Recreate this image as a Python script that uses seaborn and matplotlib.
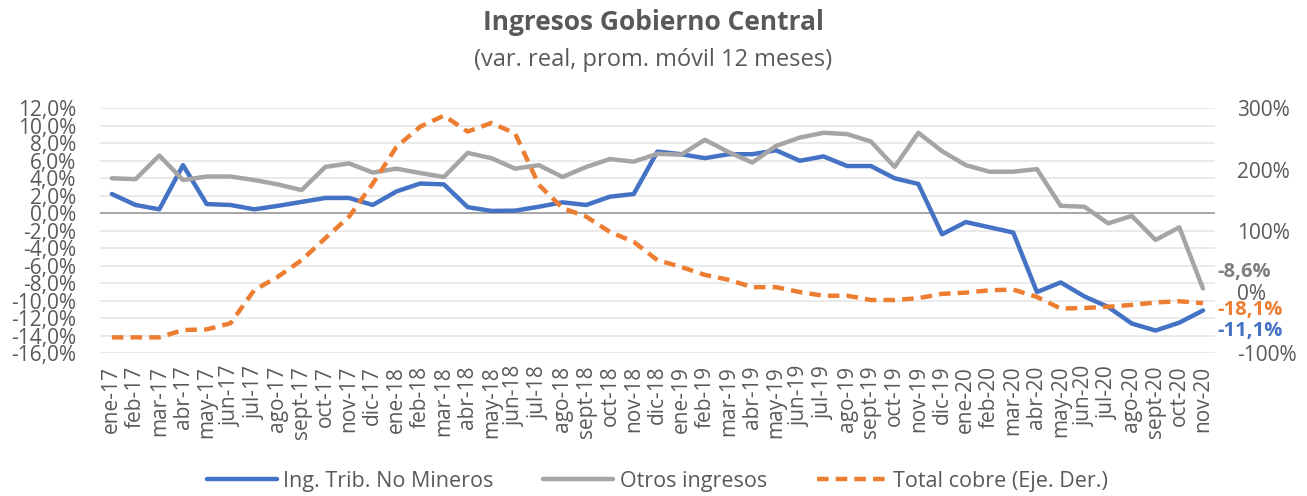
import numpy as np
import pandas as pd
import matplotlib
matplotlib.use("Agg")
import matplotlib.pyplot as plt
import seaborn as sns

meses = ['ene-17','feb-17','mar-17','abr-17','may-17','jun-17','jul-17','ago-17','sept-17','oct-17','nov-17','dic-17',
         'ene-18','feb-18','mar-18','abr-18','may-18','jun-18','jul-18','ago-18','sept-18','oct-18','nov-18','dic-18',
         'ene-19','feb-19','mar-19','abr-19','may-19','jun-19','jul-19','ago-19','sept-19','oct-19','nov-19','dic-19',
         'ene-20','feb-20','mar-20','abr-20','may-20','jun-20','jul-20','ago-20','sept-20','oct-20','nov-20']

# % var. real, prom. movil 12 meses
trib_no_mineros = [2.2, 0.95, 0.45, 5.5, 1.05, 0.95, 0.45, 0.85, 1.3, 1.75, 1.75, 0.95,
                   2.5, 3.4, 3.3, 0.7, 0.27, 0.3, 0.75, 1.25, 0.95, 1.9, 2.2, 7.05,
                   6.75, 6.3, 6.75, 6.75, 7.2, 6.0, 6.5, 5.4, 5.4, 4.0, 3.35, -2.4,
                   -1.0, -1.6, -2.2, -9.0, -7.9, -9.5, -10.7, -12.6, -13.4, -12.5, -11.1]
otros_ingresos = [4.0, 3.9, 6.6, 3.8, 4.2, 4.2, 3.8, 3.3, 2.65, 5.3, 5.7, 4.65,
                  5.1, 4.6, 4.15, 6.9, 6.3, 5.1, 5.5, 4.15, 5.3, 6.2, 5.9, 6.8,
                  6.7, 8.4, 7.0, 5.8, 7.7, 8.65, 9.2, 9.05, 8.2, 5.3, 9.2, 7.1,
                  5.5, 4.75, 4.75, 5.05, 0.85, 0.75, -1.15, -0.3, -3.05, -1.6, -8.6]
total_cobre = [-74, -74, -74, -62, -61, -51, 3, 25, 52, 88, 123, 177,
               237, 270, 288, 262, 276, 259, 175, 137, 123, 98, 82, 52,
               41, 28, 20, 8, 8, 0, -6, -6, -13, -13, -10, -3,
               -1, 3, 4, -8, -27, -26, -24, -21, -17, -15, -18.1]

df = pd.DataFrame({'pos': np.arange(len(meses)), 'mes': meses,
                   'trib': trib_no_mineros, 'otros': otros_ingresos, 'cobre': total_cobre})

AZUL = '#4472C4'
GRIS = '#A5A5A5'
NARANJA = '#ED7D31'
TXT = '#595959'

sns.set_style("white")
plt.rcParams['font.family'] = ['Open Sans', 'DejaVu Sans']

fig = plt.figure(figsize=(13.07, 4.96), dpi=100)
ax = fig.add_axes([0.0765, 0.2877, 0.853, 0.494])
ax2 = ax.twinx()

for y in np.arange(-16, 13, 2):
    if y != 0:
        ax.axhline(y, color='#E6E6E6', lw=1.2, zorder=0)
ax.axhline(0, color='#A6A6A6', lw=1.4, zorder=1)

sns.lineplot(data=df, x='pos', y='trib', ax=ax, color=AZUL, lw=3.2, label='Ing. Trib. No Mineros', legend=False)
sns.lineplot(data=df, x='pos', y='otros', ax=ax, color=GRIS, lw=3.2, label='Otros ingresos', legend=False)
sns.lineplot(data=df, x='pos', y='cobre', ax=ax2, color=NARANJA, lw=3.2, linestyle=(0, (2.6, 1.6)),
             label='Total cobre (Eje. Der.)', legend=False)

ax.set_xlim(-0.5, len(meses) - 0.5)
ax.set_ylim(-16, 12)
ax2.set_ylim(-100, 300)
ax.set_yticks(np.arange(-16, 13, 2))
ax.set_yticklabels([f'{v:.1f}%'.replace('.', ',') for v in np.arange(-16, 13, 2)])
ax2.set_yticks([-100, 0, 100, 200, 300])
ax2.set_yticklabels([f'{v}%' for v in [-100, 0, 100, 200, 300]])
ax.set_xticks(df['pos'])
ax.set_xticklabels(meses, rotation=90)
ax.set_xlabel('')
ax.set_ylabel('')
ax2.set_ylabel('')

for a in (ax, ax2):
    for s in a.spines.values():
        s.set_visible(False)
    a.tick_params(length=0, labelsize=15, labelcolor=TXT)
ax.tick_params(axis='y', pad=17)
ax.tick_params(axis='x', pad=9)
ax2.tick_params(axis='y', pad=16)

# etiquetas del ultimo dato
last = len(meses) - 1
ax.annotate('-8,6%', xy=(last, otros_ingresos[-1]), xytext=(10, 12), textcoords='offset points',
            color='#7F7F7F', fontsize=14.5, fontweight='bold', va='center', ha='left')
ax2.annotate('-18,1%', xy=(last, total_cobre[-1]), xytext=(10, -5), textcoords='offset points',
             color=NARANJA, fontsize=14.5, fontweight='bold', va='center', ha='left')
ax.annotate('-11,1%', xy=(last, trib_no_mineros[-1]), xytext=(10, -15), textcoords='offset points',
            color=AZUL, fontsize=14.5, fontweight='bold', va='center', ha='left')

fig.text(0.5, 0.955, 'Ingresos Gobierno Central', ha='center', va='center',
         fontsize=19, fontweight='bold', color=TXT)
fig.text(0.5, 0.88, '(var. real, prom. móvil 12 meses)', ha='center', va='center',
         fontsize=17, color=TXT)

h1, l1 = ax.get_legend_handles_labels()
h2, l2 = ax2.get_legend_handles_labels()
fig.legend(h1 + h2, l1 + l2, loc='center', bbox_to_anchor=(0.503, 0.03), ncol=3, frameon=False,
           fontsize=15.5, handlelength=3.25, handletextpad=0.3, columnspacing=2.3, labelcolor=TXT)

fig.savefig('out.png', dpi=100)
